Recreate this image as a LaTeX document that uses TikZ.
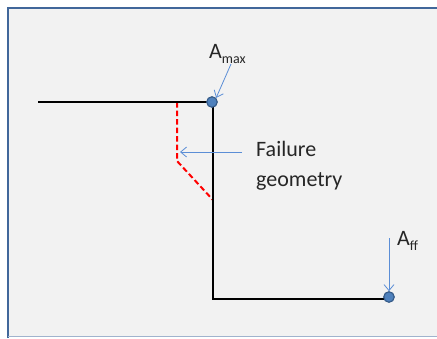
\documentclass[tikz,border=0pt]{standalone}
\usepackage{fontspec}
\setmainfont{Carlito}
\usetikzlibrary{arrows.meta}
\definecolor{bg}{HTML}{F2F2F2}
\definecolor{frame}{HTML}{41679A}
\definecolor{dotfill}{HTML}{4F81BD}
\definecolor{dotedge}{HTML}{385D8A}
\definecolor{arr}{HTML}{5B8ED6}
\tikzset{
  wall/.style={line width=2.8pt, black},
  fail/.style={line width=2pt, red, dash pattern=on 5.5pt off 3pt},
  dot/.style={circle, fill=dotfill, draw=dotedge, line width=1.2pt, inner sep=0pt, minimum size=10.5pt},
  pointer/.style={draw=arr, line width=0.8pt, -{Straight Barb[length=6pt,width=10pt]}},
  lbl/.style={font=\fontsize{22}{30}\selectfont, inner sep=0pt, text=black!85},
}
\begin{document}
\begin{tikzpicture}[x=1pt,y=-1pt]
\useasboundingbox (0,0) rectangle (437,338);
\fill[white] (0,0) rectangle (437,338);
\fill[bg] (8,8) rectangle (437,336);
\draw[frame, line width=2.4pt] (8,338) -- (8,8) -- (437,8);
\draw[frame!50, line width=1.5pt] (8,336.5) -- (437,336.5);
% geometry
\coordinate (L) at (38,102);
\coordinate (C) at (213,102);
\coordinate (B) at (213,299);
\coordinate (R) at (389,299);
\coordinate (F1) at (177,102);
\coordinate (F2) at (177,161);
\coordinate (F3) at (213,200);
\draw[fail] (F1) -- (F2) -- (F3);
\draw[wall] (L) -- (C) -- (B) -- (R);
\node[dot] (amax) at (212,102) {};
\node[dot] (aff) at (389,297) {};
% labels
\node[lbl, anchor=base west] (tmax) at (209,58) {A\raisebox{-5pt}{\fontsize{14}{14}\selectfont max}};
\node[lbl, anchor=base west] (tff) at (397,245) {A\raisebox{-5pt}{\fontsize{14}{14}\selectfont ff}};
\node[lbl, anchor=north west, align=left] (tfail) at (256,141) {Failure\\geometry};
\coordinate (s1) at (231,64);
\coordinate (s2) at (389,238);
\coordinate (s3) at (242,152);
\coordinate (e3) at (180,152);
\draw[pointer] (s1) -- (amax.north east);
\draw[pointer] (s2) -- (aff.north);
\draw[pointer] (s3) -- (e3);
\end{tikzpicture}
\end{document}
